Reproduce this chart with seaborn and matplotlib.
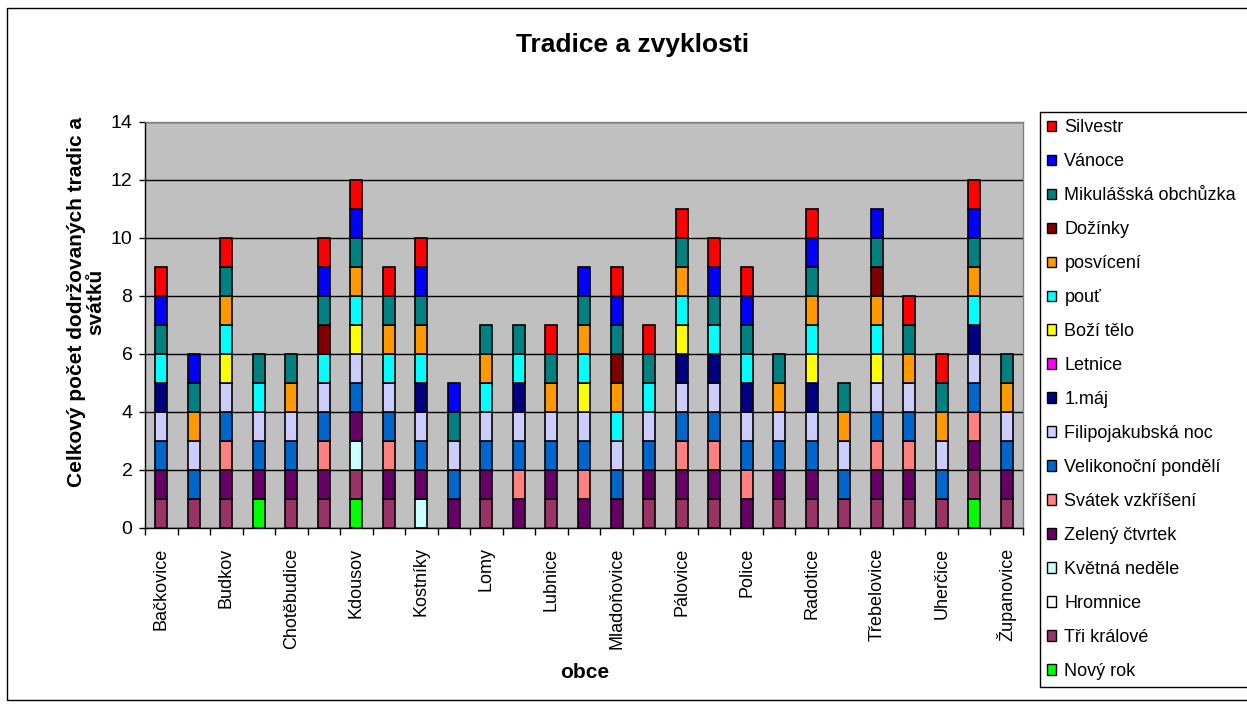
import numpy as np
import matplotlib
matplotlib.use("Agg")
import matplotlib.pyplot as plt
import seaborn as sns
from matplotlib.patches import Rectangle, Patch
from matplotlib.ticker import FixedLocator

# ---------------- data ----------------
obce = ["Bačkovice", "", "Budkov", "", "Chotěbudice", "", "Kdousov", "",
        "Kostníky", "", "Lomy", "", "Lubnice", "", "Mladoňovice", "",
        "Pálovice", "", "Police", "", "Radotice", "", "Třebelovice", "",
        "Uherčice", "", "Županovice"]

# stacking order: bottom -> top
series = ["Nový rok", "Tři králové", "Hromnice", "Květná neděle",
          "Zelený čtvrtek", "Svátek vzkříšení", "Velikonoční pondělí",
          "Filipojakubská noc", "1.máj", "Letnice", "Boží tělo", "pouť",
          "posvícení", "Dožínky", "Mikulášská obchůzka", "Vánoce", "Silvestr"]

novy_rok       = [0,0,0,1,0,0,1,0,0,0,0,0,0,0,0,0,0,0,0,0,0,0,0,0,0,1,0]
tri_kralove    = [1,1,1,0,1,1,1,1,0,0,1,0,1,0,0,1,1,1,0,1,1,1,1,1,1,1,1]
hromnice       = [0,0,0,0,0,0,0,0,0,0,0,0,0,0,0,0,0,0,0,0,0,0,0,0,0,0,0]
kvetna_nedele  = [0,0,0,0,0,0,1,0,1,0,0,0,0,0,0,0,0,0,0,0,0,0,0,0,0,0,0]
zeleny_ctvrtek = [1,0,1,1,1,1,1,1,1,1,1,1,1,1,1,1,1,1,1,1,1,0,1,1,0,1,1]
svatek_vzkr    = [0,0,1,0,0,1,0,1,0,0,0,1,0,1,0,0,1,1,1,0,0,0,1,1,0,1,0]
velik_pondeli  = [1,1,1,1,1,1,1,1,1,1,1,1,1,1,1,1,1,1,1,1,1,1,1,1,1,1,1]
filipojakub    = [1,1,1,1,1,1,1,1,1,1,1,1,1,1,1,1,1,1,1,1,1,1,1,1,1,1,1]
prvni_maj      = [1,0,0,0,0,0,0,0,1,0,0,1,0,0,0,0,1,1,1,0,1,0,0,0,0,1,0]
letnice        = [0,0,0,0,0,0,0,0,0,0,0,0,0,0,0,0,0,0,0,0,0,0,0,0,0,0,0]
bozi_telo      = [0,0,1,0,0,0,1,0,0,0,0,0,0,1,0,0,1,0,0,0,1,0,1,0,0,0,0]
pout           = [1,0,1,1,0,1,1,1,1,0,1,1,0,1,1,1,1,1,1,0,1,0,1,0,0,1,0]
posviceni      = [0,1,1,0,1,0,1,1,1,0,1,0,1,1,1,0,1,0,0,1,1,1,1,1,1,1,1]
dozinky        = [0,0,0,0,0,1,0,0,0,0,0,0,0,0,1,0,0,0,0,0,0,0,1,0,0,0,0]
mikulas        = [1,1,1,1,1,1,1,1,1,1,1,1,1,1,1,1,1,1,1,1,1,1,1,1,1,1,1]
vanoce         = [1,1,0,0,0,1,1,0,1,1,0,0,0,1,1,0,0,1,1,0,1,0,1,0,0,1,0]
silvestr       = [1,0,1,0,0,1,1,1,1,0,0,0,1,0,1,1,1,1,1,0,1,0,0,1,1,1,0]

values = [novy_rok, tri_kralove, hromnice, kvetna_nedele, zeleny_ctvrtek,
          svatek_vzkr, velik_pondeli, filipojakub, prvni_maj, letnice,
          bozi_telo, pout, posviceni, dozinky, mikulas, vanoce, silvestr]

colors = ["#00FF00", "#993366", "#FFFFFF", "#CCFFFF", "#660066", "#FF8080",
          "#0066CC", "#CCCCFF", "#000080", "#FF00FF", "#FFFF00", "#00FFFF",
          "#FF9900", "#800000", "#008080", "#0000FF", "#FF0000"]

# ---------------- figure ----------------
sns.set_style("white")
plt.rcParams['font.family'] = ['Liberation Sans', 'DejaVu Sans']
plt.rcParams['text.color'] = 'black'
plt.rcParams['axes.labelcolor'] = 'black'
plt.rcParams['xtick.color'] = 'black'
plt.rcParams['ytick.color'] = 'black'

W, H = 1247, 709
fig = plt.figure(figsize=(W / 100, H / 100), dpi=100)
fig.patch.set_facecolor("white")

L, R, T, B = 145, 1023, 122, 528
ax = fig.add_axes([L / W, 1 - B / H, (R - L) / W, (B - T) / H])
ax.set_facecolor("#C0C0C0")

pos = np.arange(len(obce))
bottom = np.zeros(len(obce))
for name, vals, col in zip(series, values, colors):
    v = np.array(vals, dtype=float)
    sns.barplot(x=pos, y=v, color=col, saturation=1, width=0.37,
                errorbar=None, bottom=bottom.copy(), edgecolor="black",
                linewidth=1.2, ax=ax)
    for p in ax.containers[-1]:
        if p.get_height() == 0:
            p.set_visible(False)
    bottom += v

ax.set_xlim(-0.5, len(obce) - 0.5)
ax.set_ylim(0, 14)
ax.set_yticks(range(0, 15, 2))
ax.yaxis.grid(True, color="black", linewidth=1)
ax.xaxis.grid(False)
ax.set_axisbelow(True)

ax.set_xticks(pos)
ax.set_xticklabels(obce, rotation=90, fontsize=13, color="black")
ax.xaxis.set_minor_locator(FixedLocator(np.arange(-0.5, len(obce), 1.0)))
ax.tick_params(axis="x", which="major", length=0, pad=14)
ax.tick_params(axis="x", which="minor", length=5, width=1, color="black",
               direction="out", bottom=True)
ax.tick_params(axis="y", which="major", length=4, width=1, color="black",
               direction="out", left=True, labelsize=14, pad=5,
               labelcolor="black")

for s in ["left", "bottom"]:
    ax.spines[s].set_color("black")
    ax.spines[s].set_linewidth(1)
for s in ["top", "right"]:
    ax.spines[s].set_color("#808080")
    ax.spines[s].set_linewidth(1)

ax.set_xlabel("")
ax.set_ylabel("")

# titles / labels
fig.text(633 / W, 1 - 52 / H, "Tradice a zvyklosti", ha="center",
         va="baseline", fontsize=19, fontweight="bold", color="black")
fig.text(585 / W, 1 - 672 / H, "obce", ha="center", va="center",
         fontsize=15, fontweight="bold", color="black")
fig.text(86 / W, 1 - 302 / H, "Celkový počet dodržovaných tradic a\nsvátků",
         ha="center", va="center", rotation=90, fontsize=15,
         fontweight="bold", linespacing=1.05, color="black")

# legend (top -> bottom = reverse stacking)
handles = [Patch(facecolor=c, edgecolor="black", linewidth=1)
           for c in colors[::-1]]
labels = series[::-1]
leg = fig.legend(handles, labels, loc="upper left",
                 bbox_to_anchor=(1040 / W, 0, 215 / W, 1 - 112 / H),
                 mode="expand", borderaxespad=0, fontsize=13,
                 labelspacing=0.94, handlelength=0.5, handleheight=0.5,
                 handletextpad=0.45, borderpad=0.4, fancybox=False,
                 frameon=True, edgecolor="black", framealpha=1)
leg.get_frame().set_linewidth(1)
for t in leg.get_texts():
    t.set_color("black")

# outer chart border
fig.add_artist(Rectangle((7 / W, 1 - 700 / H), 1.2, (700 - 8) / H,
                         transform=fig.transFigure, fill=False,
                         edgecolor="black", linewidth=1))

fig.savefig("out.png", dpi=100)
